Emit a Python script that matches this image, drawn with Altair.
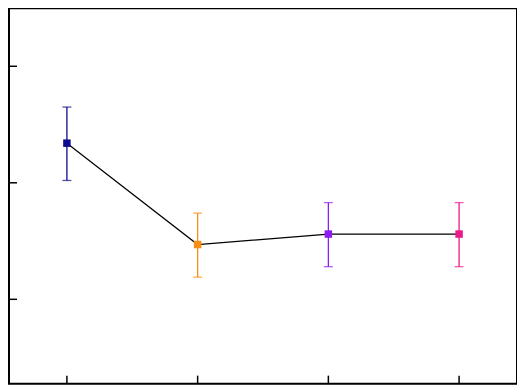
import altair as alt
import pandas as pd

# data
groups = [1, 2, 3, 4]
means = [2.34, 1.47, 1.56, 1.56]
upper = [2.65, 1.74, 1.83, 1.83]
lower = [2.02, 1.19, 1.28, 1.28]
colors = ["#0b0b8f", "#f98c12", "#8e1cf0", "#ea1a8a"]
y_ticks = [1, 2, 3]
x_ticks = [1, 2, 3, 4]

df = pd.DataFrame({"g": groups, "m": means, "hi": upper, "lo": lower, "c": colors})
xt = pd.DataFrame({"v": x_ticks})
yt = pd.DataFrame({"v": y_ticks})

W, H = 509, 376
xs = alt.Scale(domain=[0.557, 4.443], nice=False, zero=False)
ys = alt.Scale(domain=[0.2763, 3.497], nice=False, zero=False)
noax = None

X = alt.X("g:Q", scale=xs, axis=noax)
base = alt.Chart(df)

line = base.mark_line(color="black", strokeWidth=1.2).encode(x=X, y=alt.Y("m:Q", scale=ys, axis=noax))
bars = base.mark_rule(strokeWidth=1.3).encode(
    x=X, y=alt.Y("lo:Q", scale=ys, axis=noax), y2="hi:Q", color=alt.Color("c:N", scale=None))
cap_hi = base.mark_tick(orient="horizontal", size=9, thickness=1.3).encode(
    x=X, y=alt.Y("hi:Q", scale=ys, axis=noax), color=alt.Color("c:N", scale=None))
cap_lo = base.mark_tick(orient="horizontal", size=9, thickness=1.3).encode(
    x=X, y=alt.Y("lo:Q", scale=ys, axis=noax), color=alt.Color("c:N", scale=None))
pts = base.mark_square(size=56, opacity=1).encode(
    x=X, y=alt.Y("m:Q", scale=ys, axis=noax), color=alt.Color("c:N", scale=None))

xtick = alt.Chart(xt).mark_rule(color="black", strokeWidth=1.5).encode(
    x=alt.X("v:Q", scale=xs, axis=noax), y=alt.value(H), y2=alt.value(H - 8))
ytick = alt.Chart(yt).mark_rule(color="black", strokeWidth=1.5).encode(
    y=alt.Y("v:Q", scale=ys, axis=noax), x=alt.value(0), x2=alt.value(8))

chart = alt.layer(line, bars, cap_hi, cap_lo, pts, xtick, ytick).properties(
    width=W, height=H, padding=0
).configure_view(stroke="black", strokeWidth=2)

chart.save("out.html", embed_options={"renderer": "svg", "actions": False})
